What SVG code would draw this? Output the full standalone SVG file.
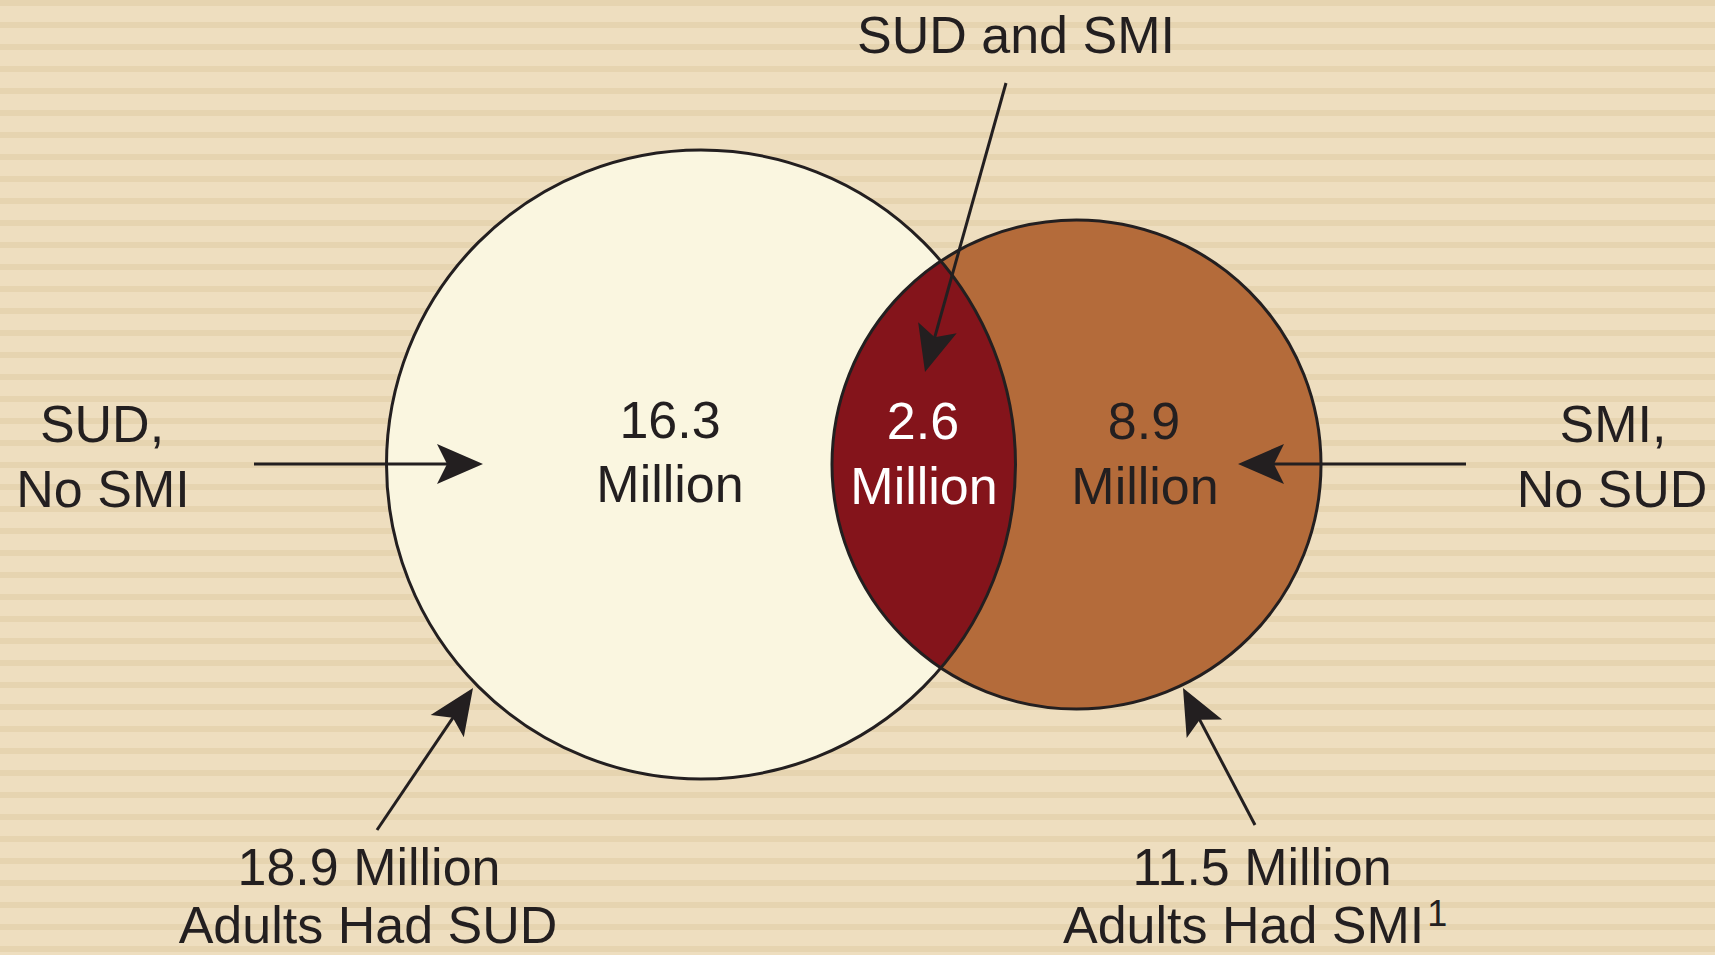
<svg xmlns="http://www.w3.org/2000/svg" width="1715" height="955" viewBox="0 0 1715 955">
<style>
.t{font-family:"Liberation Sans",Arial,sans-serif;font-size:52px;fill:#231F20;text-anchor:middle}
.w{fill:#FFFFFF}
.ol{fill:none;stroke:#231F20;stroke-width:3}
.ln{fill:none;stroke:#231F20;stroke-width:3}
</style>
<defs>
<pattern id="bg" width="40" height="22" patternUnits="userSpaceOnUse">
<rect width="40" height="22" fill="#EEDEBF"/>
<rect width="40" height="6" fill="#E6D4B0"/>
</pattern>
<clipPath id="rc"><circle cx="1076.5" cy="464.5" r="244.5"/></clipPath>
<marker id="ah" markerUnits="userSpaceOnUse" markerWidth="120" markerHeight="120" viewBox="-60 -60 120 120" refX="0" refY="0" orient="auto" overflow="visible">
<path d="M10,0 L-36,-20 L-26,0 L-36,20 Z" fill="#231F20"/>
</marker>
</defs>
<rect width="1715" height="955" fill="url(#bg)"/>
<g id="sud-circle">
<circle cx="701" cy="464.5" r="314.5" fill="#FAF6E0"/>
</g>
<g id="smi-circle">
<circle cx="1076.5" cy="464.5" r="244.5" fill="#B46B3A"/>
</g>
<g id="overlap">
<circle cx="701" cy="464.5" r="314.5" fill="#84141B" clip-path="url(#rc)"/>
</g>
<g id="outlines">
<circle class="ol" cx="701" cy="464.5" r="314.5"/>
<circle class="ol" cx="1076.5" cy="464.5" r="244.5"/>
</g>
<g id="connectors">
<line class="ln" x1="254" y1="464" x2="473" y2="464" marker-end="url(#ah)"/>
<line class="ln" x1="1466" y1="464" x2="1248" y2="464" marker-end="url(#ah)"/>
<line class="ln" x1="1006" y1="83" x2="927.7" y2="362.4" marker-end="url(#ah)"/>
<line class="ln" x1="377" y1="830" x2="467.4" y2="696.3" marker-end="url(#ah)"/>
<line class="ln" x1="1255" y1="825" x2="1187.65" y2="696.85" marker-end="url(#ah)"/>
</g>
<g id="label-sud-only">
<text class="t" x="670" y="438">16.3</text>
<text class="t" x="670" y="502">Million</text>
</g>
<g id="label-both">
<text class="t w" x="923" y="439">2.6</text>
<text class="t w" x="924" y="504">Million</text>
</g>
<g id="label-smi-only">
<text class="t" x="1144" y="439">8.9</text>
<text class="t" x="1145" y="504">Million</text>
</g>
<g id="label-top">
<text class="t" x="1016" y="53">SUD and SMI</text>
</g>
<g id="label-left">
<text class="t" x="102" y="442">SUD,</text>
<text class="t" x="103" y="507">No SMI</text>
</g>
<g id="label-right">
<text class="t" x="1613" y="442">SMI,</text>
<text class="t" x="1612" y="507">No SUD</text>
</g>
<g id="label-bottom-left">
<text class="t" x="369" y="885">18.9 Million</text>
<text class="t" x="368" y="943">Adults Had SUD</text>
</g>
<g id="label-bottom-right">
<text class="t" x="1262" y="885">11.5 Million</text>
<text class="t" x="1063" y="943" style="text-anchor:start">Adults Had SMI<tspan font-size="36" dx="3" dy="-17">1</tspan></text>
</g>
</svg>
